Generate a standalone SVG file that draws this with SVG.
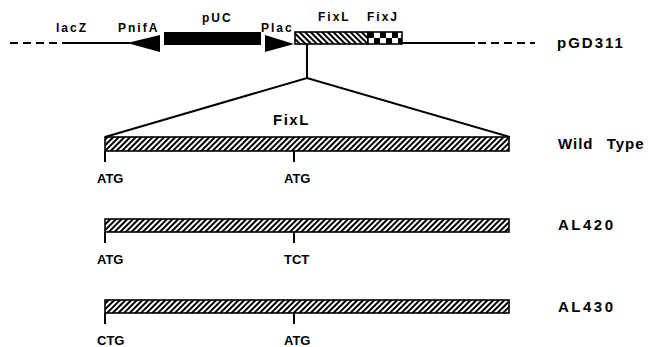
<svg xmlns="http://www.w3.org/2000/svg" width="648" height="347" viewBox="0 0 648 347">
<style>
text{font-family:"Liberation Sans",Arial,sans-serif;font-weight:bold;fill:#000}
.sm{font-size:12px;letter-spacing:2px}
.lab{font-size:15px;letter-spacing:2px}
.cod{font-size:13px}
.ln{stroke:#000;stroke-width:2;fill:none}
.bar{fill:url(#hatch);stroke:#000;stroke-width:1.6}
</style>
<defs>
<pattern id="hatch" patternUnits="userSpaceOnUse" width="4" height="4" patternTransform="rotate(45)">
<rect width="4" height="4" fill="#fff"/>
<rect x="0" y="0" width="2" height="4" fill="#000"/>
</pattern>
<pattern id="hatch2" patternUnits="userSpaceOnUse" width="4" height="4" patternTransform="rotate(-45)">
<rect width="4" height="4" fill="#fff"/>
<rect x="0" y="0" width="2" height="4" fill="#000"/>
</pattern>
<pattern id="check" patternUnits="userSpaceOnUse" x="368" y="32" width="12" height="12">
<rect width="12" height="12" fill="#fff"/>
<rect x="0" y="0" width="6" height="6" fill="#000"/>
<rect x="6" y="6" width="6" height="6" fill="#000"/>
</pattern>
</defs>

<g id="connectors">
<line class="ln" x1="10" y1="43" x2="62" y2="43" stroke-dasharray="8,5"/>
<line class="ln" x1="62" y1="43" x2="130" y2="43"/>
<line class="ln" x1="402" y1="43" x2="475" y2="43"/>
<line class="ln" x1="478" y1="43" x2="535" y2="43" stroke-dasharray="8,5"/>
<line class="ln" x1="307" y1="44" x2="307" y2="78"/>
<polyline class="ln" points="105,137 307,78 510,137"/>
</g>

<g id="plasmid">
<polygon points="127,43 160,35 160,52" fill="#000"/>
<rect x="164" y="32" width="97" height="13" fill="#000"/>
<polygon points="265,35 265,52 294,44" fill="#000"/>
<rect x="295" y="32" width="73" height="12" fill="url(#hatch2)" stroke="#000" stroke-width="1.6"/>
<rect x="368" y="32" width="34" height="12" fill="url(#check)" stroke="#000" stroke-width="1.6"/>
<text class="sm" x="56" y="32">lacZ</text>
<text class="sm" x="118" y="32">PnifA</text>
<text class="sm" x="202" y="22">pUC</text>
<text class="sm" x="261" y="32">Plac</text>
<text class="sm" x="318" y="21">FixL</text>
<text class="sm" x="367" y="21">FixJ</text>
<text class="lab" x="557" y="48">pGD311</text>
</g>

<g id="wildtype">
<text class="lab" x="273" y="125" style="letter-spacing:1.5px">FixL</text>
<rect class="bar" x="105" y="137" width="404" height="14"/>
<line class="ln" x1="105" y1="151" x2="105" y2="162" stroke-width="1.5"/>
<line class="ln" x1="294" y1="151" x2="294" y2="162" stroke-width="1.5"/>
<text class="cod" x="97" y="183">ATG</text>
<text class="cod" x="284" y="183">ATG</text>
<text class="lab" x="558" y="149" style="letter-spacing:1px;word-spacing:8px">Wild Type</text>
</g>

<g id="al420">
<rect class="bar" x="105" y="219" width="404" height="13"/>
<line class="ln" x1="105" y1="232" x2="105" y2="243" stroke-width="1.5"/>
<line class="ln" x1="294" y1="232" x2="294" y2="243" stroke-width="1.5"/>
<text class="cod" x="97" y="264">ATG</text>
<text class="cod" x="284" y="264">TCT</text>
<text class="lab" x="558" y="230" style="letter-spacing:2.5px">AL420</text>
</g>

<g id="al430">
<rect class="bar" x="105" y="300" width="404" height="13"/>
<line class="ln" x1="105" y1="313" x2="105" y2="324" stroke-width="1.5"/>
<line class="ln" x1="294" y1="313" x2="294" y2="324" stroke-width="1.5"/>
<text class="cod" x="97" y="345">CTG</text>
<text class="cod" x="284" y="345">ATG</text>
<text class="lab" x="558" y="312" style="letter-spacing:2.5px">AL430</text>
</g>
</svg>
